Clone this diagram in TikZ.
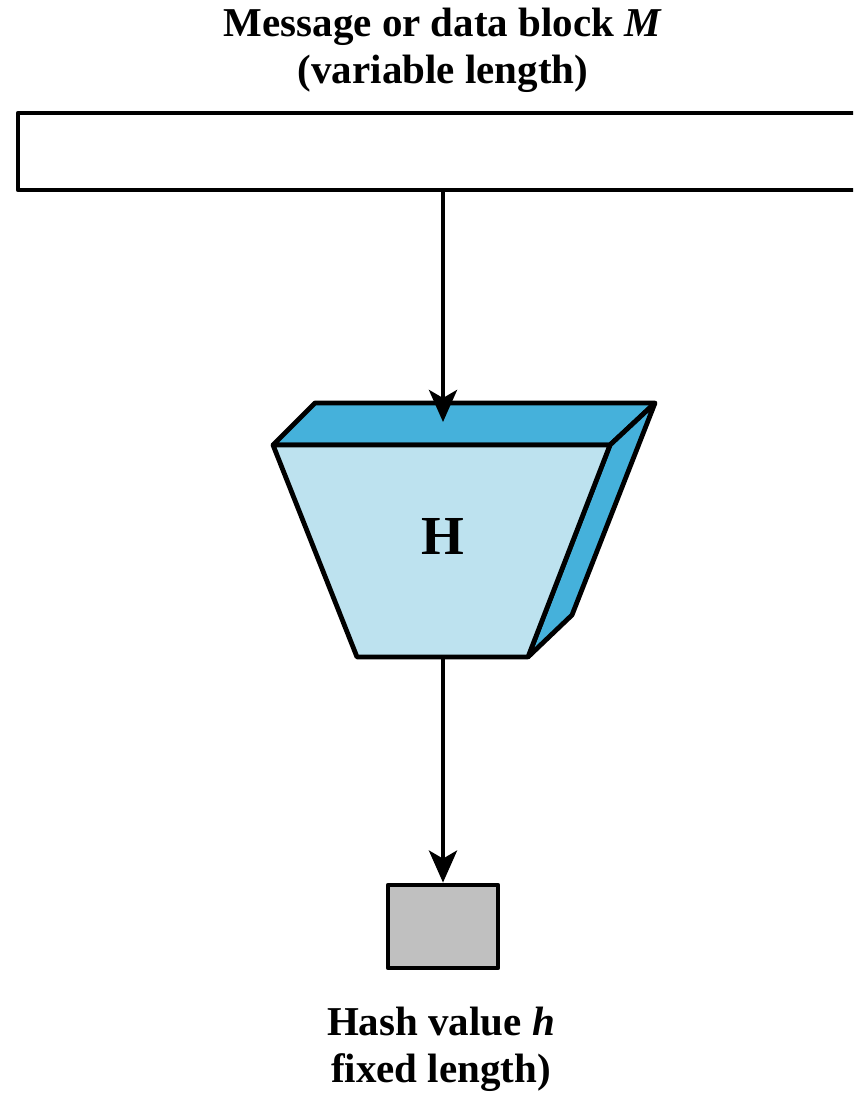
\documentclass[tikz,border=0pt]{standalone}
\usepackage{fontspec}
\setmainfont{Liberation Serif}
\usetikzlibrary{arrows.meta}
\definecolor{topblue}{HTML}{45B1DB}
\definecolor{faceblue}{HTML}{BDE2EF}
\definecolor{hashgray}{HTML}{C0C0C0}
\tikzset{
  outline/.style={draw=black, line width=4.8pt, line join=round},
  arr/.style={line width=4.5pt, -{Stealth[length=32pt,width=28pt,inset=8pt]}},
  lbl/.style={font=\bfseries\fontsize{41}{47}\selectfont, align=center, inner sep=0pt}
}
\begin{document}
\begin{tikzpicture}[x=1pt,y=-1pt]
\clip (0,0) rectangle (853,1099);
\fill[white] (0,0) rectangle (853,1099);
% labels
\node[lbl] (msglbl) at (443,50) {Message or data block \textit{M}\\(variable length)};
\node[lbl] (hashlbl) at (441,1049) {Hash value \textit{h}\\fixed length)};
% message bar
\node[outline, fill=white, minimum width=862pt, minimum height=77pt, inner sep=0pt] (msg) at (449,151.5) {};
% hash function block
\path[outline, fill=topblue] (273,445) -- (315,403) -- (655,403) -- (610,445) -- cycle;
\path[outline, fill=topblue] (610,445) -- (655,403) -- (572,615) -- (528,657) -- cycle;
\path[outline, fill=faceblue] (273,445) -- (610,445) -- (528,657) -- (357,657) -- cycle;
\node[font=\bfseries\fontsize{55}{60}\selectfont, inner sep=0pt] (H) at (443,536) {H};
\coordinate (htop) at (443,422);
\coordinate (hbot) at (443,657);
% hash value box
\node[outline, fill=hashgray, minimum width=110pt, minimum height=83pt, inner sep=0pt] (hash) at (443,926.5) {};
% connectors
\draw[arr] (msg.south -| htop) -- (htop);
\draw[arr] (hbot) -- (hash.north);
\end{tikzpicture}
\end{document}
